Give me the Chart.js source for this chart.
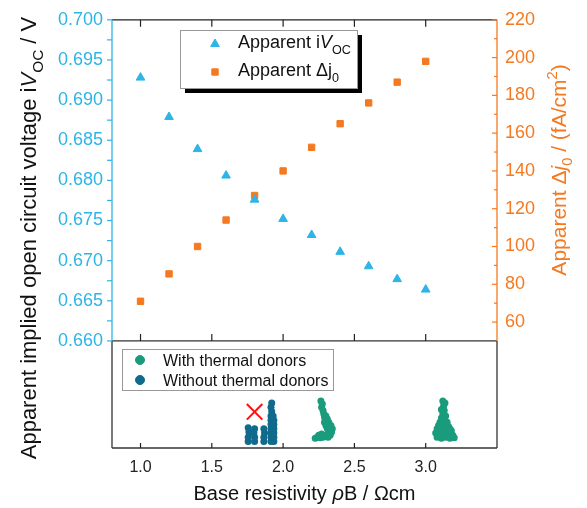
<!DOCTYPE html>
<html>
<head>
<meta charset="utf-8">
<script src="https://cdn.jsdelivr.net/npm/chart.js@4.4.0/dist/chart.umd.min.js"></script>
<style>
body { margin: 0; background: #fff; }
</style>
</head>
<body>
<canvas id="myChart" width="587" height="508"></canvas>
<script>
// measured samples (top panel)
var resistivity = [1.0, 1.2, 1.4, 1.6, 1.8, 2.0, 2.2, 2.4, 2.6, 2.8, 3.0];
var ivoc = [0.6928, 0.6879, 0.6839, 0.6806, 0.6776, 0.6752, 0.6732, 0.6711, 0.6693, 0.6677, 0.6664];
var deltaJ0 = [71, 85.5, 100, 114, 127, 140, 152.5, 165, 176, 187, 198];

// tick labels
var xTicks = [1.0, 1.5, 2.0, 2.5, 3.0];
var ivocTicks = [0.660, 0.665, 0.670, 0.675, 0.680, 0.685, 0.690, 0.695, 0.700];
var j0Ticks = [60, 80, 100, 120, 140, 160, 180, 200, 220];

// wafer distribution (bottom panel), position is only vertical spread
var withTdRho = [2.265, 2.275, 2.27, 2.28, 2.285, 2.29, 2.30, 2.31, 2.32, 2.33, 2.34, 2.30, 2.31, 2.32, 2.335, 2.345, 2.29, 2.30, 2.31, 2.32, 2.30, 2.28, 2.26, 2.24, 2.225, 2.25, 2.27, 2.33, 2.315,
                 3.12, 3.135, 3.125, 3.11, 3.13, 3.12, 3.14, 3.11, 3.13, 3.10, 3.15, 3.09, 3.12, 3.16, 3.08, 3.11, 3.14, 3.18, 3.07, 3.10, 3.13, 3.16, 3.19, 3.08, 3.11, 3.14, 3.17, 3.20, 3.15, 3.17];
var withTdPos = [4.4, 4.1, 3.8, 3.5, 3.2, 2.9, 2.6, 2.3, 2.0, 1.7, 1.5, 3.0, 2.7, 2.4, 2.1, 1.8, 2.4, 2.1, 1.8, 1.4, 1.2, 1.0, 0.95, 1.0, 0.9, 1.2, 1.3, 1.2, 1.0,
                 4.4, 4.2, 3.9, 3.6, 3.5, 3.2, 3.0, 2.8, 2.6, 2.4, 2.4, 2.1, 2.1, 2.0, 1.8, 1.7, 1.8, 1.6, 1.4, 1.3, 1.4, 1.3, 1.2, 1.0, 0.9, 1.0, 0.9, 0.95, 1.6, 1.8];
var withoutTdRho = [1.755, 1.755, 1.76, 1.755, 1.80, 1.80, 1.795, 1.80, 1.865, 1.865, 1.87, 1.865,
                    1.915, 1.915, 1.915, 1.915, 1.915, 1.915, 1.915, 1.92, 1.915, 1.92, 1.935, 1.935, 1.935, 1.935, 1.935, 1.935, 1.93];
var withoutTdPos = [0.6, 1.0, 1.5, 1.9, 0.6, 1.0, 1.4, 1.8, 0.6, 1.0, 1.4, 1.8,
                    0.6, 1.0, 1.4, 1.8, 2.2, 2.6, 3.0, 3.4, 3.8, 4.2, 0.6, 1.0, 1.4, 1.8, 2.2, 2.6, 3.0];
var excludedRho = [1.80];
var excludedPos = [3.38];

var cyan = '#2cb5e6';
var orange = '#f47920';
var green = '#1a9c7c';
var blue = '#0f6a8c';
var fontName = "'Liberation Sans', Arial, sans-serif";

function toPoints(xs, ys) {
    return xs.map(function (v, i) { return { x: v, y: ys[i] }; });
}

function fixTicks(list) {
    return function (scale) {
        scale.ticks = list.map(function (v) { return { value: v }; });
    };
}

// draws a line of text made of parts (italic / sub / sup), centred or left aligned
function drawRich(ctx, parts, x, y, size, color, angle, align) {
    ctx.save();
    ctx.translate(x, y);
    ctx.rotate(angle || 0);
    ctx.fillStyle = color;
    ctx.textBaseline = 'alphabetic';
    ctx.textAlign = 'left';
    var total = 0;
    parts.forEach(function (p) {
        var s = (p.sub || p.sup) ? size * 0.7 : size;
        p.font = (p.it ? 'italic ' : '') + s + 'px ' + fontName;
        ctx.font = p.font;
        p.w = ctx.measureText(p.t).width;
        total += p.w;
    });
    var cx = align === 'left' ? 0 : -total / 2;
    var base = size * 0.36;
    parts.forEach(function (p) {
        ctx.font = p.font;
        var dy = p.sub ? size * 0.3 : (p.sup ? -size * 0.42 : 0);
        ctx.fillText(p.t, cx, base + dy);
        cx += p.w;
    });
    ctx.restore();
}

function line(ctx, x1, y1, x2, y2, color) {
    ctx.strokeStyle = color;
    ctx.beginPath();
    ctx.moveTo(x1, y1);
    ctx.lineTo(x2, y2);
    ctx.stroke();
}

function marker(ctx, style, r, x, y, color) {
    ctx.fillStyle = color;
    ctx.strokeStyle = color;
    ctx.lineWidth = 1;
    Chart.helpers.drawPoint(ctx, { pointStyle: style, radius: r, rotation: 0, borderWidth: 1 }, x, y);
}

var decorPlugin = {
    id: 'decor',
    afterDraw: function (chart) {
        var ctx = chart.ctx;
        var x = chart.scales.x, y = chart.scales.y, y2 = chart.scales.y2;
        var left = chart.chartArea.left, right = chart.chartArea.right;
        var top = y.top, mid = y.bottom, bottom = chart.scales.yb.bottom;
        ctx.save();
        ctx.lineWidth = 1.3;

        // panel frames
        line(ctx, left, top, right, top, '#222');
        line(ctx, left, mid, right, mid, '#333');
        line(ctx, left, mid, left, bottom, '#333');
        line(ctx, right, mid, right, bottom, '#333');
        line(ctx, left, bottom, right, bottom, '#333');
        line(ctx, left, top, left, mid, cyan);
        line(ctx, right, top, right, mid, orange);

        // x tick marks
        ctx.lineWidth = 1.2;
        xTicks.forEach(function (v) {
            var px = x.getPixelForValue(v);
            line(ctx, px, top, px, top + 7, '#222');
            line(ctx, px, mid - 7, px, mid, '#222');
            line(ctx, px, bottom - 5, px, bottom, '#222');
        });
        // left ticks (major + minor)
        ivocTicks.forEach(function (v, i) {
            var py = y.getPixelForValue(v);
            line(ctx, left - 5, py, left, py, cyan);
            if (i < ivocTicks.length - 1) {
                var pm = y.getPixelForValue((v + ivocTicks[i + 1]) / 2);
                line(ctx, left - 5, pm, left, pm, cyan);
            }
        });
        // right ticks
        j0Ticks.forEach(function (v, i) {
            var py = y2.getPixelForValue(v);
            line(ctx, right - 5, py, right, py, orange);
            var pm = y2.getPixelForValue(v - 10);
            if (pm < mid) line(ctx, right - 3, pm, right, pm, orange);
        });

        // top legend with shadow
        ctx.fillStyle = '#000';
        ctx.fillRect(185, 35, 177, 58);
        ctx.fillStyle = '#fff';
        ctx.fillRect(180, 30, 177, 58);
        ctx.lineWidth = 1;
        ctx.strokeStyle = '#999';
        ctx.strokeRect(180.5, 30.5, 177, 58);
        marker(ctx, 'triangle', 5, 215, 44, cyan);
        marker(ctx, 'rect', 4.5, 215, 72, orange);
        drawRich(ctx, [{ t: 'Apparent i' }, { t: 'V', it: true }, { t: 'OC', sub: true }], 238, 42, 18, '#111', 0, 'left');
        drawRich(ctx, [{ t: 'Apparent Δj' }, { t: '0', sub: true }], 238, 70, 18, '#111', 0, 'left');

        // bottom legend
        ctx.fillStyle = '#fff';
        ctx.fillRect(122, 349, 211, 41);
        ctx.strokeStyle = '#999';
        ctx.strokeRect(122.5, 349.5, 211, 41);
        marker(ctx, 'circle', 4.5, 140, 360, green);
        marker(ctx, 'circle', 4.5, 140, 380, blue);
        drawRich(ctx, [{ t: 'With thermal donors' }], 163, 360, 16, '#111', 0, 'left');
        drawRich(ctx, [{ t: 'Without thermal donors' }], 163, 380, 16, '#111', 0, 'left');

        // axis titles
        drawRich(ctx, [{ t: 'Apparent implied open circuit voltage i' }, { t: 'V', it: true }, { t: 'OC', sub: true }, { t: ' / V' }],
            28, 238, 22, '#111', -Math.PI / 2);
        drawRich(ctx, [{ t: 'Apparent Δ' }, { t: 'j', it: true }, { t: '0', sub: true }, { t: ' / (fA/cm' }, { t: '2', sup: true }, { t: ')' }],
            558, 170, 21, orange, -Math.PI / 2);
        drawRich(ctx, [{ t: 'Base resistivity ' }, { t: 'ρ', it: true }, { t: 'B / Ωcm' }],
            (left + right) / 2, 493, 20, '#111', 0);
        ctx.restore();
    }
};

function createChart() {
    var ctx = document.getElementById('myChart').getContext('2d');
    var hidden = { display: false };
    // stacked axes: on the left the later one sits higher, on the right the first one does
    var myChart = new Chart(ctx, {
        type: 'scatter',
        data: {
            datasets: [{
                label: 'Apparent iVOC',
                data: toPoints(resistivity, ivoc),
                yAxisID: 'y',
                pointStyle: 'triangle',
                pointRadius: 5,
                backgroundColor: cyan,
                borderColor: cyan,
                borderWidth: 1
            }, {
                label: 'Apparent Δj0',
                data: toPoints(resistivity, deltaJ0),
                yAxisID: 'y2',
                pointStyle: 'rect',
                pointRadius: 4.5,
                backgroundColor: orange,
                borderColor: orange,
                borderWidth: 1
            }, {
                label: 'With thermal donors',
                data: toPoints(withTdRho, withTdPos),
                yAxisID: 'yb',
                pointRadius: 3.5,
                backgroundColor: green,
                borderColor: green,
                borderWidth: 0
            }, {
                label: 'Without thermal donors',
                data: toPoints(withoutTdRho, withoutTdPos),
                yAxisID: 'yb',
                pointRadius: 3.5,
                backgroundColor: blue,
                borderColor: blue,
                borderWidth: 0
            }, {
                label: 'Excluded',
                data: toPoints(excludedRho, excludedPos),
                yAxisID: 'yb',
                pointStyle: 'crossRot',
                pointRadius: 11,
                borderColor: '#ff1010',
                borderWidth: 2
            }]
        },
        options: {
            responsive: false,
            animation: false,
            devicePixelRatio: 1,
            layout: { padding: { top: 15, left: 0, right: 0, bottom: 0 } },
            plugins: { legend: hidden, tooltip: { enabled: false } },
            scales: {
                x: {
                    type: 'linear',
                    position: 'bottom',
                    min: 0.8,
                    max: 3.5,
                    afterBuildTicks: fixTicks(xTicks),
                    afterFit: function (s) { s.height = 60; },
                    grid: { display: false, drawTicks: false },
                    border: hidden,
                    ticks: {
                        padding: 10,
                        color: '#222',
                        font: { family: fontName, size: 16 },
                        callback: function (v) { return v.toFixed(1); }
                    }
                },
                yb: {
                    type: 'linear',
                    position: 'left',
                    stack: 'left',
                    stackWeight: 1,
                    min: 0,
                    max: 10,
                    afterFit: function (s) { s.width = 112; },
                    grid: { display: false, drawTicks: false },
                    border: hidden,
                    ticks: { display: false }
                },
                y: {
                    type: 'linear',
                    position: 'left',
                    stack: 'left',
                    stackWeight: 3,
                    min: 0.66,
                    max: 0.70,
                    afterBuildTicks: fixTicks(ivocTicks),
                    afterFit: function (s) { s.width = 112; },
                    grid: { display: false, drawTicks: false },
                    border: hidden,
                    ticks: {
                        autoSkip: false,
                        padding: 9,
                        color: cyan,
                        font: { family: fontName, size: 18 },
                        callback: function (v) { return v.toFixed(3); }
                    }
                },
                y2: {
                    type: 'linear',
                    position: 'right',
                    stack: 'right',
                    stackWeight: 3,
                    min: 50,
                    max: 220,
                    afterBuildTicks: fixTicks(j0Ticks),
                    afterFit: function (s) { s.width = 90; },
                    grid: { display: false, drawTicks: false },
                    border: hidden,
                    ticks: {
                        autoSkip: false,
                        padding: 8,
                        color: orange,
                        font: { family: fontName, size: 18 }
                    }
                },
                y2b: {
                    type: 'linear',
                    position: 'right',
                    stack: 'right',
                    stackWeight: 1,
                    min: 0,
                    max: 10,
                    afterFit: function (s) { s.width = 90; },
                    grid: { display: false, drawTicks: false },
                    border: hidden,
                    ticks: { display: false }
                }
            }
        },
        plugins: [decorPlugin]
    });
}

createChart();
</script>
</body>
</html>
